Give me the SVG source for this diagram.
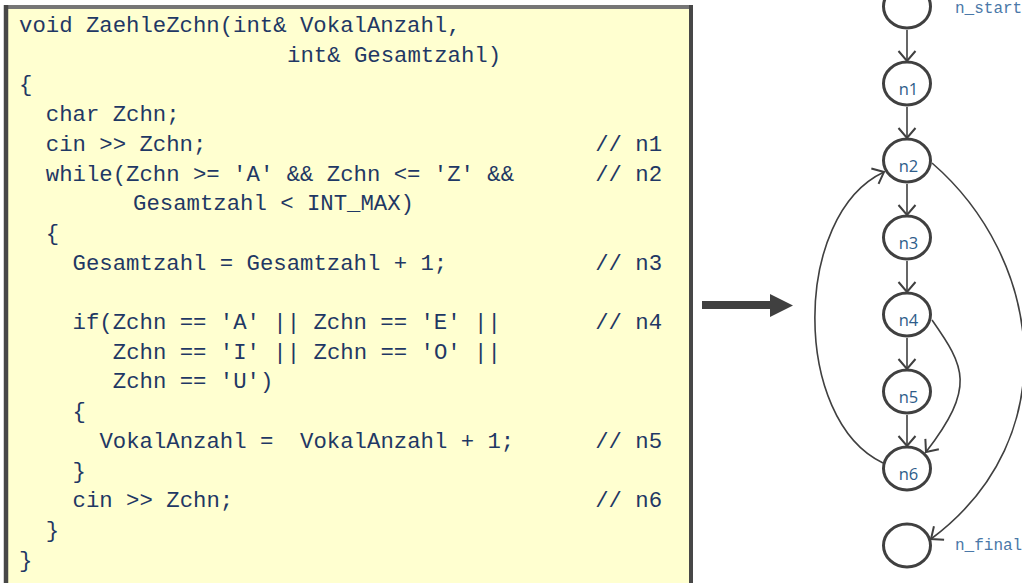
<svg xmlns="http://www.w3.org/2000/svg" width="1022" height="583" viewBox="0 0 1022 583">
  <style>
    .code { font-family: "Liberation Mono", "Courier New", monospace; font-size: 22.3px; fill: #1f3864; white-space: pre; }
    .node { fill: #ffffff; stroke: #404040; stroke-width: 3; }
    .lbl { font-family: "Open Sans", "Noto Sans", sans-serif; font-size: 16.5px; fill: #2e5c8a; text-anchor: middle; }
    .term { font-family: "Liberation Mono", "Courier New", monospace; font-size: 16px; fill: #4a78a8; }
    .edge { fill: none; stroke: #404040; stroke-width: 1.6; marker-end: url(#vhead); }
  </style>
  <defs>
    <marker id="vhead" markerUnits="userSpaceOnUse" markerWidth="24" markerHeight="24" viewBox="-12 -12 24 24" refX="0" refY="0" orient="auto">
      <path d="M-10,-8.5 L0,0 L-10,8.5" fill="none" stroke="#404040" stroke-width="2"/>
    </marker>
  </defs>

  <rect width="1022" height="583" fill="#ffffff"/>

  <!-- source listing -->
  <g id="code-box">
    <rect x="6" y="7" width="685" height="590" fill="#ffffd0"/>
    <line x1="4" y1="7" x2="693" y2="7" stroke="#767676" stroke-width="4"/>
    <line x1="6" y1="5" x2="6" y2="583" stroke="#474747" stroke-width="4.5"/>
    <line x1="691" y1="5" x2="691" y2="583" stroke="#474747" stroke-width="4"/>
    <g class="code" xml:space="preserve">
      <text x="19" y="32">void ZaehleZchn(int&amp; VokalAnzahl,</text>
      <text x="287" y="61.7">int&amp; Gesamtzahl)</text>
      <text x="19" y="91.4">{</text>
      <text x="45.8" y="121.1">char Zchn;</text>
      <text x="45.8" y="150.8">cin &gt;&gt; Zchn;</text>
      <text x="45.8" y="180.5">while(Zchn &gt;= 'A' &amp;&amp; Zchn &lt;= 'Z' &amp;&amp;</text>
      <text x="133" y="210.2">Gesamtzahl &lt; INT_MAX)</text>
      <text x="45.8" y="239.9">{</text>
      <text x="72.6" y="269.6">Gesamtzahl = Gesamtzahl + 1;</text>
      <text x="72.6" y="329">if(Zchn == 'A' || Zchn == 'E' ||</text>
      <text x="112.8" y="358.7">Zchn == 'I' || Zchn == 'O' ||</text>
      <text x="112.8" y="388.4">Zchn == 'U')</text>
      <text x="72.6" y="418.1">{</text>
      <text x="99.4" y="447.8" xml:space="preserve">VokalAnzahl =  VokalAnzahl + 1;</text>
      <text x="72.6" y="477.5">}</text>
      <text x="72.6" y="507.2">cin &gt;&gt; Zchn;</text>
      <text x="45.8" y="536.9">}</text>
      <text x="19" y="566.6">}</text>
      <!-- node comments -->
      <text x="595.2" y="150.8">// n1</text>
      <text x="595.2" y="180.5">// n2</text>
      <text x="595.2" y="269.6">// n3</text>
      <text x="595.2" y="329">// n4</text>
      <text x="595.2" y="447.8">// n5</text>
      <text x="595.2" y="507.2">// n6</text>
    </g>
  </g>

  <!-- transformation arrow -->
  <g id="big-arrow">
    <path d="M702,301 H770 V294 L793,305.5 L770,317 V309 H702 Z" fill="#404040"/>
  </g>

  <!-- control flow edges -->
  <g id="connectors">
    <line class="edge" x1="907" y1="30" x2="907" y2="61"/>
    <line class="edge" x1="907" y1="107" x2="907" y2="138"/>
    <line class="edge" x1="907" y1="184" x2="907" y2="215"/>
    <line class="edge" x1="907" y1="261" x2="907" y2="292"/>
    <line class="edge" x1="907" y1="338" x2="907" y2="369"/>
    <line class="edge" x1="907" y1="415" x2="907" y2="446"/>
    <!-- n6 back to loop head n2 -->
    <path class="edge" d="M883,463 C792,420 792,215 884,172"/>
    <!-- loop exit n2 to n_final -->
    <path class="edge" d="M932,163 C1042,258 1068,437 931,539"/>
    <!-- n4 skips n5 -->
    <path class="edge" d="M932,320 C965,367 976,387 926,452"/>
  </g>

  <g id="n_start">
    <ellipse class="node" cx="907" cy="6.5" rx="23.5" ry="21.5"/>
    <text class="term" x="955" y="12.5">n_start</text>
  </g>
  <g id="n1">
    <ellipse class="node" cx="907" cy="83.5" rx="23.5" ry="21.5"/>
    <text class="lbl" x="908.5" y="95">n1</text>
  </g>
  <g id="n2">
    <ellipse class="node" cx="907" cy="160.5" rx="23.5" ry="21.5"/>
    <text class="lbl" x="908.5" y="172">n2</text>
  </g>
  <g id="n3">
    <ellipse class="node" cx="907" cy="237.5" rx="23.5" ry="21.5"/>
    <text class="lbl" x="908.5" y="249">n3</text>
  </g>
  <g id="n4">
    <ellipse class="node" cx="907" cy="314.5" rx="23.5" ry="21.5"/>
    <text class="lbl" x="908.5" y="326">n4</text>
  </g>
  <g id="n5">
    <ellipse class="node" cx="907" cy="391.5" rx="23.5" ry="21.5"/>
    <text class="lbl" x="908.5" y="403">n5</text>
  </g>
  <g id="n6">
    <ellipse class="node" cx="907" cy="468.5" rx="23.5" ry="21.5"/>
    <text class="lbl" x="908.5" y="480">n6</text>
  </g>
  <g id="n_final">
    <ellipse class="node" cx="907" cy="545.5" rx="23.5" ry="21.5"/>
    <text class="term" x="955" y="550">n_final</text>
  </g>
</svg>
